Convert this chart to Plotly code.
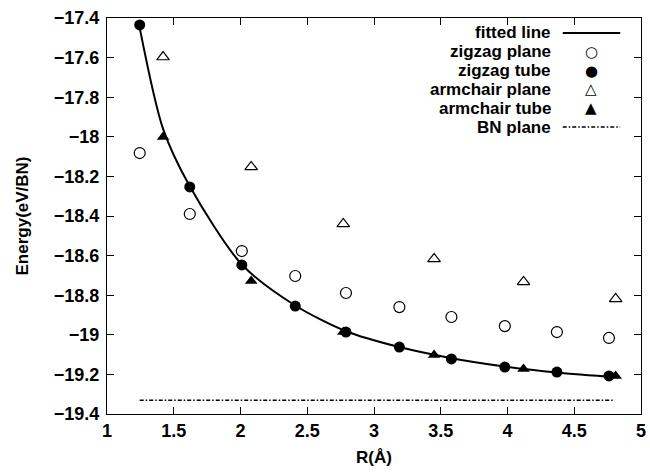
import plotly.graph_objects as go

# --- data ---
zz_x = [1.245, 1.62, 2.01, 2.41, 2.79, 3.19, 3.58, 3.98, 4.37, 4.76]
zz_plane = [-18.082, -18.39, -18.577, -18.703, -18.789, -18.86, -18.91, -18.956, -18.986, -19.016]
zz_tube = [-17.435, -18.253, -18.647, -18.855, -18.986, -19.062, -19.122, -19.163, -19.188, -19.208]

ac_x = [1.42, 2.08, 2.77, 3.45, 4.12, 4.81]
ac_plane = [-17.597, -18.152, -18.44, -18.617, -18.733, -18.819]
ac_tube = [-18.001, -18.728, -18.986, -19.102, -19.173, -19.208]

fit_x = [1.245, 1.42, 1.62, 2.01, 2.41, 2.79, 3.19, 3.58, 3.98, 4.37, 4.83]
fit_y = [-17.45, -17.96, -18.25, -18.645, -18.852, -18.982, -19.062, -19.118, -19.16, -19.19, -19.215]

bn_x = [1.245, 4.79]
bn_y = [-19.33, -19.33]

legend_labels = ["fitted line", "zigzag plane", "zigzag tube", "armchair plane", "armchair tube", "BN plane"]
legend_symbols = [None, "○", "●", "△", "▲", None]

FONT = "Liberation Sans, Arial, sans-serif"
FS = 17

fig = go.Figure()
fig.add_trace(go.Scatter(x=fit_x, y=fit_y, mode="lines", line=dict(color="black", width=2, shape="spline", smoothing=0.8)))
fig.add_trace(go.Scatter(x=bn_x, y=bn_y, mode="lines", line=dict(color="black", width=1.5, dash="4px,2px,1.5px,2px")))
fig.add_trace(go.Scatter(x=zz_x, y=zz_plane, mode="markers",
                         marker=dict(symbol="circle-open", size=11, color="black", line=dict(width=1.2))))
fig.add_trace(go.Scatter(x=zz_x, y=zz_tube, mode="markers",
                         marker=dict(symbol="circle", size=11, color="black")))
fig.add_trace(go.Scatter(x=ac_x, y=ac_plane, mode="markers",
                         marker=dict(symbol="triangle-up-open", size=11, color="black", line=dict(width=1.2))))
fig.add_trace(go.Scatter(x=ac_x, y=ac_tube, mode="markers",
                         marker=dict(symbol="triangle-up", size=11, color="black")))

# gnuplot-style legend (text right-aligned, key sample on the right)
annotations = []
shapes = []
row0 = 33
dy = 18.8
PL, PR, PT, PB = 107, 646, 18, 414
for i, (lab, sym) in enumerate(zip(legend_labels, legend_symbols)):
    ypix = row0 + i * dy
    yy = (PB - ypix) / (PB - PT)
    annotations.append(dict(xref="paper", yref="paper", x=(557 - PL) / (PR - PL), y=yy,
                            text="<b>%s</b>" % lab, showarrow=False, xanchor="right", yanchor="middle",
                            font=dict(family=FONT, size=FS, color="black")))
    x0 = (567 - PL) / (PR - PL)
    x1 = (625 - PL) / (PR - PL)
    if sym:
        annotations.append(dict(xref="paper", yref="paper", x=(596 - PL) / (PR - PL), y=yy,
                                text=sym, showarrow=False, xanchor="center", yanchor="middle",
                                font=dict(family="DejaVu Sans", size=15, color="black")))
    elif i == 0:
        shapes.append(dict(type="line", xref="paper", yref="paper", x0=x0, x1=x1, y0=yy, y1=yy,
                           line=dict(color="black", width=2)))
    else:
        shapes.append(dict(type="line", xref="paper", yref="paper", x0=x0, x1=x1, y0=yy, y1=yy,
                           line=dict(color="black", width=1.5, dash="4px,2px,1.5px,2px")))

axis_common = dict(showgrid=False, zeroline=False, showline=True, linecolor="black", linewidth=1.3,
                   mirror="ticks", ticks="inside", ticklen=7, tickwidth=1.2, tickcolor="black",
                   ticklabeloverflow="allow",
                   tickfont=dict(family=FONT, size=18, color="black", weight="bold"))

fig.update_layout(
    width=650, height=472,
    margin=dict(l=PL, r=650 - PR, t=PT, b=472 - PB),
    plot_bgcolor="white", paper_bgcolor="white",
    showlegend=False,
    xaxis=dict(range=[1, 5], dtick=0.5, tick0=1,
               title=dict(text="<b>R(Å)</b>", font=dict(family=FONT, size=FS, color="black"), standoff=11),
               **axis_common),
    yaxis=dict(range=[-19.4, -17.4], dtick=0.2, tick0=-19.4, ticklabelstandoff=3,
               title=dict(text="<b>Energy(eV/BN)</b>", font=dict(family=FONT, size=FS, color="black"), standoff=20),
               **axis_common),
    annotations=annotations,
    shapes=shapes,
)

fig.write_html("out.html")
